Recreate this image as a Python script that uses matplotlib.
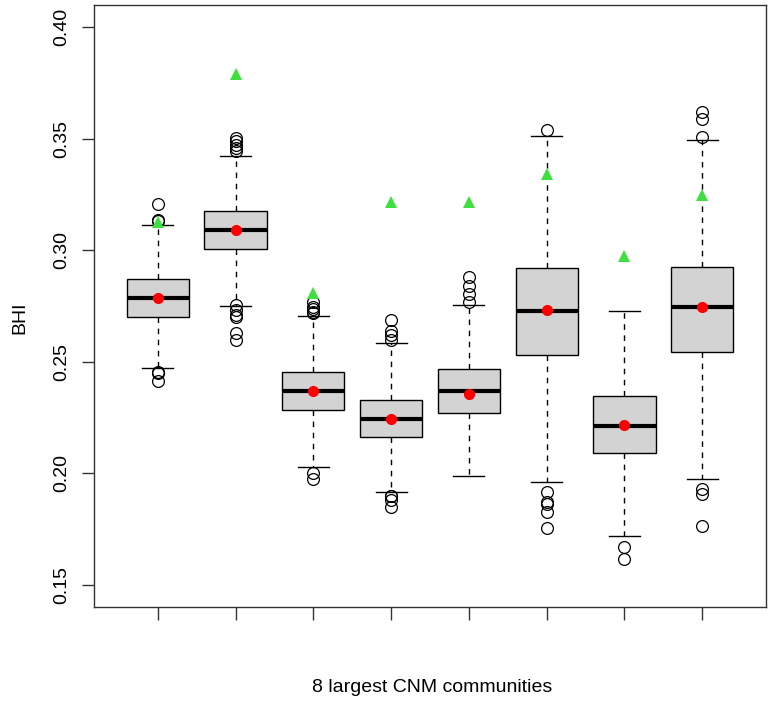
import matplotlib
matplotlib.use('Agg')
import matplotlib.pyplot as plt

plt.rcParams['font.family'] = ['Liberation Sans', 'DejaVu Sans']

# box statistics (8 largest CNM communities)
q1 = [0.2701, 0.3006, 0.2283, 0.2162, 0.2270, 0.2529, 0.2090, 0.2545]
med = [0.2786, 0.3093, 0.2369, 0.2244, 0.2369, 0.2728, 0.2214, 0.2746]
q3 = [0.2869, 0.3178, 0.2454, 0.2330, 0.2466, 0.2922, 0.2345, 0.2924]
whislo = [0.2470, 0.2749, 0.2030, 0.1914, 0.1987, 0.1960, 0.1718, 0.1975]
whishi = [0.3112, 0.3423, 0.2706, 0.2585, 0.2753, 0.3511, 0.2728, 0.3493]
fliers = [
    [0.3209, 0.3134, 0.3130, 0.2455, 0.2448, 0.2412],
    [0.3502, 0.3490, 0.3470, 0.3457, 0.3445, 0.2753, 0.2731, 0.2709, 0.2701, 0.2627, 0.2597],
    [0.2768, 0.2745, 0.2735, 0.2723, 0.2717, 0.2000, 0.1975],
    [0.2689, 0.2638, 0.2619, 0.2597, 0.1900, 0.1896, 0.1881, 0.1848],
    [0.2880, 0.2840, 0.2806, 0.2767],
    [0.3541, 0.1914, 0.1872, 0.1861, 0.1824, 0.1754],
    [0.1668, 0.1617],
    [0.3620, 0.3590, 0.3507, 0.1929, 0.1905, 0.1763],
]
means = [0.2786, 0.3092, 0.2367, 0.2245, 0.2357, 0.2734, 0.2215, 0.2745]
observed = [0.3127, 0.3792, 0.2810, 0.3217, 0.3217, 0.3341, 0.2973, 0.3250]

stats = []
for i in range(8):
    stats.append({'med': med[i], 'q1': q1[i], 'q3': q3[i],
                  'whislo': whislo[i], 'whishi': whishi[i], 'fliers': fliers[i]})

fig = plt.figure(figsize=(7.71, 7.04), dpi=100)
ax = fig.add_axes([94 / 771, 97 / 704, 672 / 771, 602 / 704])

pos = list(range(1, 9))
ax.bxp(stats, positions=pos, widths=0.8, patch_artist=True,
       boxprops=dict(facecolor='#D3D3D3', edgecolor='black', linewidth=1),
       medianprops=dict(color='black', linewidth=3, solid_capstyle='butt'),
       whiskerprops=dict(color='black', linewidth=1, linestyle=(0, (4, 4))),
       capprops=dict(color='black', linewidth=1),
       capwidths=0.4,
       flierprops=dict(marker='o', markerfacecolor='none', markeredgecolor='black',
                       markersize=8.5, markeredgewidth=0.9, linestyle='none'))

ax.plot(pos, means, 'o', color='red', markersize=7, zorder=5)
ax.plot(pos, observed, '^', color='#3FDF3F', markersize=8, markeredgewidth=0, zorder=5)

ax.set_xlim(0.18, 8.82)
ax.set_ylim(0.14, 0.41)
ax.set_xticks(pos)
ax.set_xticklabels([])
ax.set_yticks([0.15, 0.20, 0.25, 0.30, 0.35, 0.40])
ax.set_yticklabels(['0.15', '0.20', '0.25', '0.30', '0.35', '0.40'],
                   rotation=90, va='center')
ax.tick_params(axis='both', length=9, width=1, color='#333333', labelsize=14, pad=8)
for s in ax.spines.values():
    s.set_linewidth(1)
    s.set_color('#333333')

fig.text(20 / 771, 1 - 318 / 704, 'BHI', rotation=90, fontsize=14, ha='center', va='center')
fig.text(432 / 771, 1 - 688 / 704, '8 largest CNM communities', fontsize=14,
         ha='center', va='center')

fig.savefig('out.png', dpi=100)
